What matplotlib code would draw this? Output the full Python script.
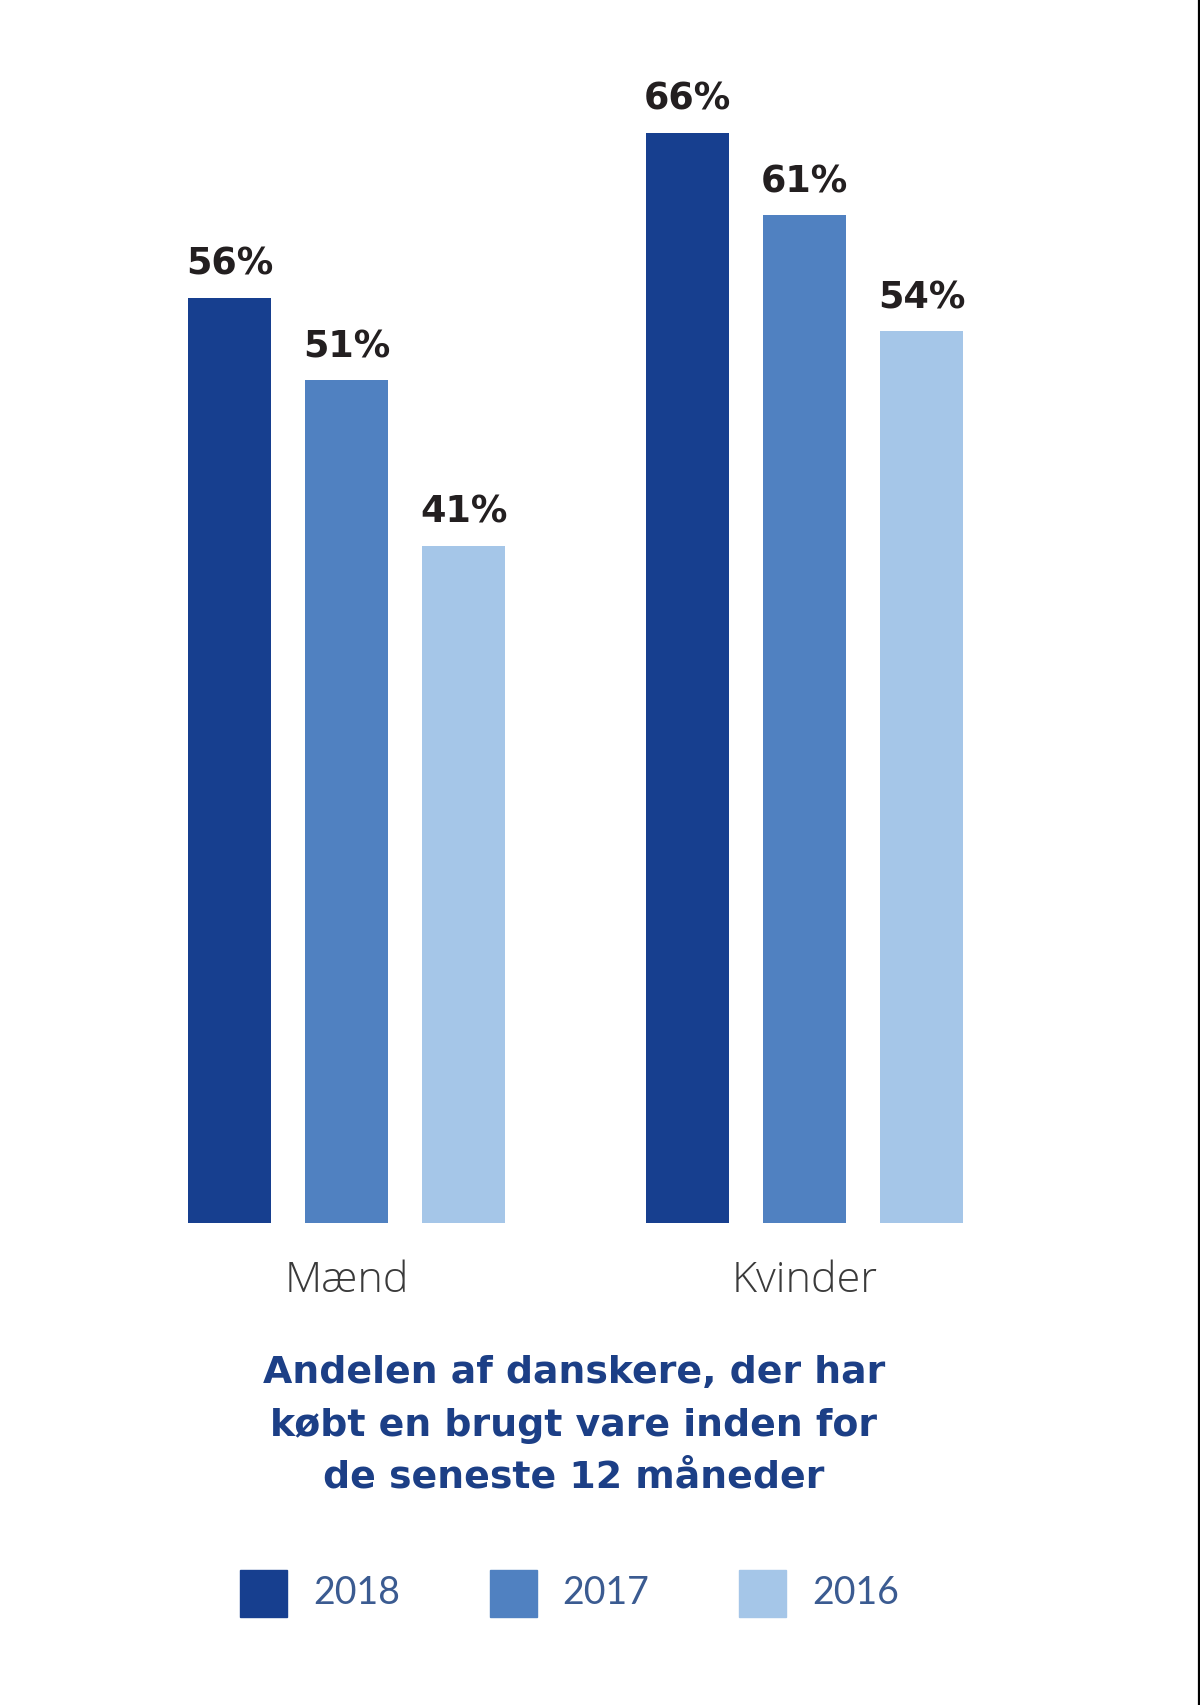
import matplotlib
matplotlib.use("Agg")
import matplotlib.pyplot as plt
from matplotlib.patches import Rectangle
from matplotlib.lines import Line2D
import numpy as np

plt.rcParams['font.family'] = ['Lato', 'DejaVu Sans']

# ---- data ----
groups = ['Mænd', 'Kvinder']
years = ['2018', '2017', '2016']
v2018 = [56, 66]
v2017 = [51, 61]
v2016 = [41, 54]
colors = ['#173f8f', '#5081c1', '#a5c6e8']
title_lines = ["Andelen af danskere, der har",
               "købt en brugt vare inden for",
               "de seneste 12 måneder"]

W, H = 1200, 1705
fig = plt.figure(figsize=(W / 100, H / 100), dpi=100)
fig.patch.set_facecolor('white')

# axes geometry (pixels from top)
y0_px = 1223
px_per_unit = 16.52
group_dist_px = 458
g0_center_px = 346.5
ax = fig.add_axes([0, (H - y0_px) / H, 1, y0_px / H])
ax.set_xlim(-g0_center_px / group_dist_px, (W - g0_center_px) / group_dist_px)
ax.set_ylim(0, y0_px / px_per_unit)
ax.axis('off')

x = np.arange(len(groups))
step = 0.2555
width = 0.181
series = [v2018, v2017, v2016]
for i, (vals, c) in enumerate(zip(series, colors)):
    xs = x + (i - 1) * step
    ax.bar(xs, vals, width=width, color=c)
    for xx, v in zip(xs, vals):
        ax.annotate(f"{v}%", (xx, v), xytext=(0, 16.5), textcoords='offset points',
                    ha='center', va='baseline', fontsize=26.3, fontweight='bold',
                    family='DejaVu Sans', color='#231f20')

# category labels
for xx, g in zip(x, groups):
    ax.annotate(g, (xx, 0), xytext=(0, -49.7), textcoords='offset points',
                ha='center', va='baseline', fontsize=31, fontweight='light',
                family=['Open Sans', 'DejaVu Sans'], color='#3a3a3a')

# title (three centred lines)
for k, (line, base_px) in enumerate(zip(title_lines, [1383, 1436, 1488])):
    fig.text(574 / W, 1 - base_px / H, line, ha='center', va='baseline',
             fontsize=27.3, fontweight='bold', family='DejaVu Sans',
             color='#1c3f86')

# legend
sq = 47
leg_y = 1570
for xs_px, tx_px, lab, c in zip([240, 490, 739], [313, 562, 812], years, colors):
    fig.add_artist(Rectangle((xs_px / W, 1 - (leg_y + sq) / H), sq / W, sq / H,
                             transform=fig.transFigure, color=c))
    fig.text(tx_px / W, 1 - (leg_y + sq / 2) / H, lab, ha='left', va='center',
             fontsize=27, fontweight='normal', color='#3b5b91')

# right border line
fig.add_artist(Line2D([1198.5 / W, 1198.5 / W], [0, 1], transform=fig.transFigure,
                      color='black', linewidth=1.6))

fig.savefig('out.png', dpi=100, facecolor='white')
